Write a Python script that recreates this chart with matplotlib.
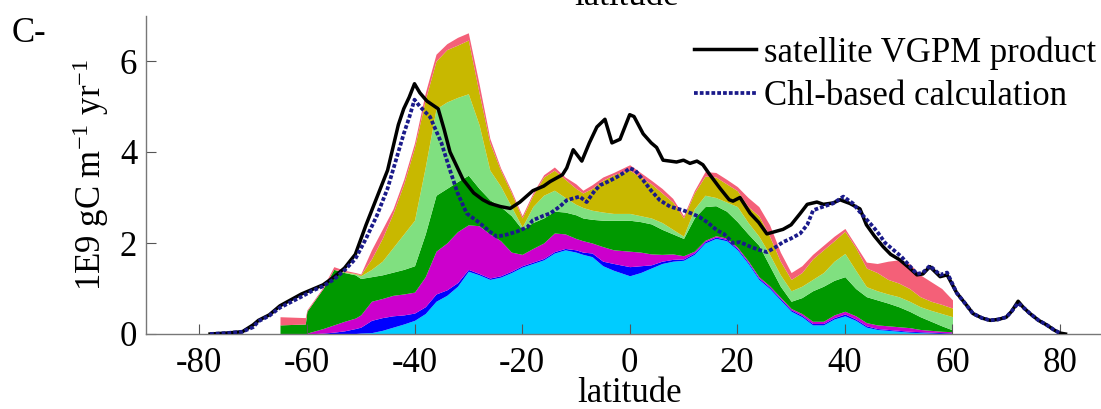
import numpy as np
import matplotlib
matplotlib.use("Agg")
import matplotlib.pyplot as plt

plt.rcParams['font.family'] = ['Liberation Serif', 'DejaVu Serif']
plt.rcParams['mathtext.fontset'] = 'custom'
plt.rcParams['mathtext.rm'] = 'Liberation Serif'
plt.rcParams['mathtext.it'] = 'Liberation Serif:italic'
plt.rcParams['axes.unicode_minus'] = False

# ---- stacked component boundaries (cumulative tops), latitude grid ----
stack_lat = [-65, -60.3, -60, -57, -55, -53, -51, -50, -48, -46, -44, -42, -40, -38, -36, -34, -32, -30,
             -28, -26, -24, -22, -20, -18, -16, -14, -12, -10, -8.7, -7, -5, -3, 0, 2, 4, 6, 8, 10,
             12, 14, 16, 18, 20, 22, 24, 26, 28, 30, 32, 34, 36, 38, 40, 42, 44, 46, 48, 50, 52, 54,
             56, 58, 60]
cyan_top = [0, 0, 0, 0, 0, 0, 0.01, 0.02, 0.03, 0.08, 0.15, 0.22, 0.3, 0.45, 0.72, 0.85, 1.05, 1.38,
            1.3, 1.2, 1.25, 1.35, 1.47, 1.55, 1.63, 1.78, 1.85, 1.8, 1.75, 1.7, 1.5, 1.4, 1.28, 1.35, 1.45, 1.55, 1.6, 1.62,
            1.75, 2.0, 2.1, 2.05, 1.85, 1.55, 1.2, 1.0, 0.75, 0.5, 0.38, 0.2, 0.2, 0.33, 0.4, 0.3, 0.15, 0.1,
            0.08, 0.06, 0.04, 0.03, 0.02, 0.01, 0.0]
blue_top = [0, 0, 0, 0.02, 0.04, 0.07, 0.12, 0.15, 0.3, 0.36, 0.4, 0.42, 0.46, 0.6, 0.88, 0.97, 1.13, 1.42,
            1.33, 1.23, 1.28, 1.38, 1.5, 1.58, 1.66, 1.81, 1.88, 1.85, 1.8, 1.78, 1.6, 1.55, 1.48, 1.5, 1.52, 1.6, 1.64, 1.65,
            1.78, 2.03, 2.13, 2.08, 1.88, 1.58, 1.23, 1.03, 0.78, 0.53, 0.41, 0.23, 0.23, 0.36, 0.44, 0.33, 0.18, 0.12,
            0.1, 0.08, 0.06, 0.05, 0.04, 0.03, 0.02]
magenta_top = [0, 0, 0.02, 0.12, 0.2, 0.28, 0.35, 0.42, 0.72, 0.78, 0.85, 0.88, 0.92, 1.26, 1.82, 2.0, 2.25, 2.4,
               2.38, 2.2, 2.05, 1.8, 1.75, 1.88, 2.0, 2.22, 2.2, 2.1, 2.05, 2.0, 1.92, 1.85, 1.82, 1.8, 1.76, 1.75, 1.76, 1.72,
               1.82, 2.06, 2.16, 2.11, 1.91, 1.61, 1.26, 1.06, 0.81, 0.56, 0.45, 0.28, 0.28, 0.42, 0.5, 0.4, 0.25, 0.2,
               0.18, 0.16, 0.14, 0.1, 0.08, 0.06, 0.05]
dkgreen_top = [0.2, 0.22, 0.5, 1.0, 1.42, 1.35, 1.3, 1.22, 1.26, 1.3, 1.36, 1.42, 1.5, 2.2, 3.05, 3.2, 3.35, 3.49,
               3.2, 2.95, 2.8, 2.6, 2.3, 2.45, 2.55, 2.7, 2.68, 2.62, 2.55, 2.52, 2.5, 2.5, 2.5, 2.47, 2.42, 2.3, 2.2, 2.1,
               2.55, 2.8, 2.82, 2.7, 2.47, 2.2, 1.95, 1.5, 1.05, 0.72, 0.8, 0.95, 1.05, 1.18, 1.26, 1.0, 0.82, 0.75,
               0.68, 0.6, 0.5, 0.38, 0.28, 0.18, 0.09]
ltgreen_top = [0.2, 0.22, 0.5, 1.0, 1.42, 1.36, 1.32, 1.28, 1.42, 1.6, 1.9, 2.2, 2.5, 3.67, 4.95, 5.1, 5.2, 5.28,
               4.6, 3.6, 3.25, 2.8, 2.35, 2.8, 3.05, 3.16, 3.0, 2.85, 2.78, 2.72, 2.68, 2.65, 2.65, 2.6, 2.55, 2.45, 2.3, 2.15,
               2.75, 3.05, 3.0, 2.9, 2.8, 2.45, 2.15, 1.75, 1.3, 0.95, 1.05, 1.2, 1.35, 1.6, 1.77, 1.4, 1.04, 0.95,
               0.88, 0.82, 0.72, 0.6, 0.52, 0.45, 0.38]
olive_top = [0.2, 0.22, 0.5, 1.0, 1.42, 1.37, 1.33, 1.3, 1.65, 2.1, 2.65, 3.3, 4.1, 5.15, 6.0, 6.25, 6.35, 6.46,
             5.3, 4.2, 3.6, 3.1, 2.55, 3.05, 3.45, 3.6, 3.4, 3.2, 3.1, 3.2, 3.38, 3.5, 3.6, 3.45, 3.3, 3.1, 2.9, 2.55,
             3.1, 3.47, 3.45, 3.3, 3.15, 2.8, 2.6, 2.15, 1.6, 1.2, 1.35, 1.65, 1.85, 2.05, 2.26, 1.9, 1.45, 1.35,
             1.2, 1.12, 1.0, 0.82, 0.72, 0.65, 0.57]
pink_top = [0.38, 0.36, 0.53, 1.03, 1.48, 1.4, 1.35, 1.32, 1.85, 2.3, 2.75, 3.4, 4.2, 5.3, 6.15, 6.38, 6.52, 6.62,
            5.5, 4.3, 3.65, 3.15, 2.6, 3.1, 3.5, 3.67, 3.45, 3.3, 3.16, 3.28, 3.45, 3.55, 3.72, 3.55, 3.38, 3.2, 2.98, 2.6,
            3.15, 3.57, 3.55, 3.4, 3.24, 3.0, 2.8, 2.4, 1.8, 1.35, 1.5, 1.75, 1.95, 2.15, 2.32, 1.95, 1.58, 1.55,
            1.6, 1.63, 1.55, 1.3, 1.15, 1.0, 0.75]

layer_tops = [cyan_top, blue_top, magenta_top, dkgreen_top, ltgreen_top, olive_top, pink_top]
layer_colors = ['#00CCFF', '#0000FF', '#CC00CC', '#009900', '#80E080', '#C8B800', '#F46078']

# ---- satellite VGPM product ----
vgpm_lat = [-78, -75, -72, -70, -69, -67, -65, -63, -61, -59, -57, -55, -53, -51, -49, -47, -45, -43, -42,
            -41, -40, -39, -37.7, -35.6, -34.5, -33.4, -31, -29, -27.3, -26, -24, -22.2, -20.4, -18, -16,
            -14.8, -12.5, -11.7, -10.5, -8.9, -7.5, -6.1, -4.6, -3.3, -1.8, 0, 0.8, 2.5, 4, 5, 6.2, 7.5, 8.7,
            10, 11.2, 12.5, 13.6, 14.9, 16.8, 18.5, 19.2, 20.5, 22.4, 24, 25.5, 27, 28.5, 30, 31.7, 33, 34.8,
            36, 37.8, 39.1, 40.9, 42.8, 44, 45.5, 47.1, 48.5, 50.2, 52, 53.4, 54.5, 55.8, 57.7, 59, 60.8,
            62.5, 63.8, 65.5, 67, 68.5, 70, 71, 72.2, 73.2, 74.4, 76, 77.5, 79, 80, 81]
vgpm_val = [0.0, 0.02, 0.05, 0.2, 0.3, 0.42, 0.62, 0.75, 0.88, 0.98, 1.08, 1.25, 1.45, 1.75, 2.4, 3.0, 3.6, 4.6, 4.95,
            5.2, 5.5, 5.3, 5.12, 4.95, 4.5, 4.0, 3.4, 3.1, 2.95, 2.87, 2.8, 2.76, 2.9, 3.15, 3.25,
            3.35, 3.5, 3.65, 4.05, 3.8, 4.2, 4.55, 4.72, 4.2, 4.28, 4.82, 4.78, 4.4, 4.2, 4.1, 3.82, 3.8, 3.78,
            3.82, 3.75, 3.8, 3.72, 3.5, 3.2, 2.95, 2.92, 3.0, 2.65, 2.45, 2.2, 2.25, 2.3, 2.4, 2.65, 2.85, 2.9,
            2.85, 2.88, 2.95, 2.87, 2.75, 2.4, 2.15, 1.92, 1.75, 1.63, 1.45, 1.3, 1.32, 1.48, 1.26, 1.3, 0.9,
            0.65, 0.45, 0.35, 0.3, 0.32, 0.37, 0.5, 0.72, 0.58, 0.45, 0.3, 0.2, 0.08, 0.02, 0.0]

# ---- Chl-based calculation ----
chl_lat = [-78, -75, -72, -70, -69, -67, -65, -63, -61, -59, -57, -55, -53, -51, -49, -47, -45, -43, -42, -41,
           -40, -39, -37.1, -35, -33.4, -32, -30.3, -28, -26, -24.7, -23, -21, -19, -18, -16, -14.8, -13,
           -11.7, -9.3, -8, -6.5, -5.5, -4, -2.4, -1, 0, 1, 2.5, 4, 5.6, 7.5, 9.9, 11.5, 13, 14.5, 16.2, 17.5,
           19.2, 20.5, 22.4, 24, 25.5, 27, 28.5, 30, 31.7, 33, 34.1, 36, 37.8, 39.7, 41.5, 43, 44.7, 46, 47.5,
           49, 50.5, 52, 53.4, 54.5, 55.8, 57.7, 59, 60.8, 62.5, 63.8, 65.5, 67, 68.5, 70, 71, 72.2, 73.2,
           74.4, 76, 77.5, 79, 80]
chl_val = [0.0, 0.02, 0.05, 0.15, 0.28, 0.4, 0.58, 0.7, 0.82, 0.95, 1.05, 1.2, 1.4, 1.65, 2.1, 2.6, 3.2, 4.0, 4.4, 4.75,
           5.15, 5.0, 4.77, 4.2, 3.6, 3.1, 2.65, 2.45, 2.25, 2.14, 2.18, 2.25, 2.35, 2.5, 2.6, 2.65, 2.8,
           2.94, 3.02, 2.9, 3.15, 3.27, 3.35, 3.45, 3.55, 3.64, 3.6, 3.38, 3.15, 2.94, 2.8, 2.72, 2.65, 2.57, 2.45, 2.28, 2.2,
           2.0, 2.02, 1.92, 1.85, 1.8, 1.9, 2.02, 2.1, 2.21, 2.4, 2.72, 2.8, 2.87, 3.02, 2.87, 2.65, 2.43, 2.25, 2.0,
           1.85, 1.7, 1.5, 1.32, 1.35, 1.5, 1.3, 1.35, 0.9, 0.65, 0.45, 0.35, 0.3, 0.32, 0.37, 0.5, 0.68, 0.58,
           0.45, 0.3, 0.2, 0.08, 0.02]

x_ticks = [-80, -60, -40, -20, 0, 20, 40, 60, 80]
y_ticks = [0, 2, 4, 6]

FS = 25

fig = plt.figure(figsize=(11.01, 4.09), dpi=100)
ax = fig.add_axes([145.5 / 1101, 1 - 334 / 409, 968.4 / 1101, 318.5 / 409])

lower = np.zeros(len(stack_lat))
for top, col in zip(layer_tops, layer_colors):
    top = np.asarray(top, dtype=float)
    ax.fill_between(stack_lat, lower, top, color=col, linewidth=0)
    lower = top

ax.plot(vgpm_lat, vgpm_val, color='black', lw=2.5, label='satellite VGPM product', zorder=5)
ax.plot(chl_lat, chl_val, color='#1a1a8a', lw=2.7, linestyle=(0, (1.0, 0.55)),
        label='Chl-based calculation', zorder=6)

ax.set_xlim(-90, 90)
ax.set_ylim(0, 7)
ax.set_xticks(x_ticks)
ax.set_yticks(y_ticks)
ax.tick_params(direction='in', length=7, width=0.8, colors='#555555', labelcolor='black',
               labelsize=FS)
ax.tick_params(axis='x', pad=9)
ax.tick_params(axis='y', pad=6)
for s in ['top', 'right']:
    ax.spines[s].set_visible(False)
for s in ['left', 'bottom']:
    ax.spines[s].set_color('#777777')
    ax.spines[s].set_linewidth(1.0)

ax.set_xlabel('latitude', fontsize=FS, labelpad=-2)
ax.set_ylabel(r'1E9 gC m$^{\mathrm{-1}}$ yr$^{\mathrm{-1}}$', fontsize=FS, labelpad=6)

leg = ax.legend(loc='upper right', bbox_to_anchor=(1096 / 1101, 1 - 36 / 409),
                bbox_transform=fig.transFigure, frameon=False, fontsize=FS,
                handlelength=1.79, handletextpad=0.23, labelspacing=0.3, borderpad=0, borderaxespad=0)

fig.text(12 / 1101, 1 - 33 / 409, 'C-', fontsize=FS, va='center', ha='left')
fig.text(627 / 1101, 1 - 5 / 409, 'latitude', fontsize=FS, va='baseline', ha='center')

fig.savefig('out.png', dpi=100)
